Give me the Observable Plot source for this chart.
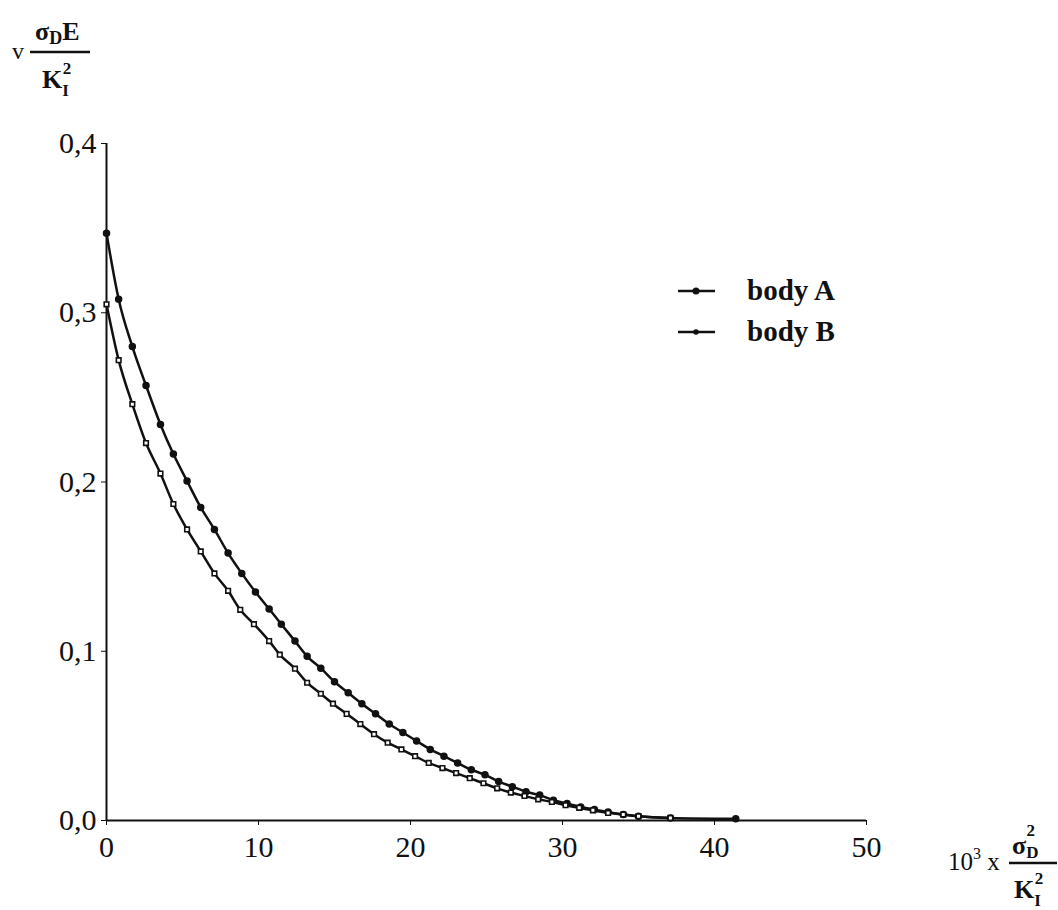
<!DOCTYPE html>
<html>
<head>
<meta charset="utf-8">
<script src="https://cdn.jsdelivr.net/npm/d3@7"></script>
<script src="https://cdn.jsdelivr.net/npm/@observablehq/plot@0.6"></script>
<style>
  html, body { margin: 0; padding: 0; background: #fff; }
  #chart { position: relative; width: 1058px; height: 910px; }
</style>
</head>
<body>
<div id="chart"></div>
<script>
// ---- data ----
const seriesNames = ["body A", "body B"];
const xA = [0, 0.8, 1.7, 2.6, 3.55, 4.4, 5.3, 6.2, 7.1, 8.0, 8.9, 9.8, 10.7, 11.5, 12.4, 13.2, 14.1, 15.0, 15.9, 16.8, 17.7, 18.6, 19.5, 20.4, 21.3, 22.2, 23.1, 24.0, 24.9, 25.8, 26.7, 27.6, 28.5, 29.4, 30.3, 31.2, 32.1, 33.0, 34.0, 35.0, 37.1, 41.4];
const yA = [0.347, 0.308, 0.280, 0.257, 0.234, 0.2165, 0.2006, 0.185, 0.172, 0.158, 0.146, 0.135, 0.125, 0.116, 0.106, 0.097, 0.090, 0.082, 0.0755, 0.069, 0.063, 0.057, 0.052, 0.047, 0.042, 0.038, 0.034, 0.030, 0.027, 0.023, 0.020, 0.017, 0.015, 0.012, 0.010, 0.008, 0.0065, 0.005, 0.0035, 0.0025, 0.0015, 0.001];
const xB = [0, 0.8, 1.7, 2.6, 3.55, 4.4, 5.3, 6.2, 7.1, 8.0, 8.8, 9.7, 10.7, 11.4, 12.4, 13.2, 14.1, 14.9, 15.8, 16.7, 17.6, 18.5, 19.4, 20.3, 21.2, 22.1, 23.0, 23.9, 24.8, 25.7, 26.6, 27.5, 28.4, 29.3, 30.2, 31.1, 32.0, 33.0, 34.0, 35.0, 37.1];
const yB = [0.305, 0.272, 0.246, 0.223, 0.205, 0.187, 0.172, 0.159, 0.146, 0.1357, 0.1245, 0.116, 0.106, 0.098, 0.0897, 0.0814, 0.0749, 0.069, 0.063, 0.057, 0.051, 0.046, 0.042, 0.038, 0.034, 0.031, 0.028, 0.025, 0.022, 0.019, 0.0165, 0.0145, 0.0125, 0.011, 0.009, 0.0075, 0.006, 0.0045, 0.0035, 0.0025, 0.0015];
const xTicks = [0, 10, 20, 30, 40, 50];
const yTicks = [0, 0.1, 0.2, 0.3, 0.4];

const dataA = xA.map((x, i) => ({x, y: yA[i], s: seriesNames[0]}));
const dataB = xB.map((x, i) => ({x, y: yB[i], s: seriesNames[1]}));

const FONT = "Liberation Serif";
const fmt = d => d.toFixed(1).replace(".", ",");

const plot = Plot.plot({
  width: 1058,
  height: 910,
  marginLeft: 106,
  marginRight: 192,
  marginTop: 143,
  marginBottom: 90,
  style: {fontFamily: FONT, fontSize: "30px", color: "#111", background: "#fff"},
  x: {domain: [0, 50], ticks: xTicks, tickSize: 5, tickPadding: 10, label: null, tickFormat: d => String(d)},
  y: {domain: [0, 0.4], ticks: yTicks, tickSize: 5, tickPadding: 5, label: null, tickFormat: fmt},
  marks: [
    Plot.ruleY([0], {stroke: "#111", strokeWidth: 2}),
    Plot.ruleX([0], {stroke: "#111", strokeWidth: 2}),
    Plot.line(dataA, {x: "x", y: "y", stroke: "#111", strokeWidth: 2.5, curve: "monotone-x"}),
    Plot.line(dataB, {x: "x", y: "y", stroke: "#111", strokeWidth: 2.5, curve: "monotone-x"}),
    Plot.dot(dataA, {x: "x", y: "y", r: 3, fill: "#111", stroke: "#111"}),
    Plot.dot(dataB, {x: "x", y: "y", r: 2.6, symbol: "square", fill: "#fff", stroke: "#111", strokeWidth: 1.6})
  ]
});
document.getElementById("chart").appendChild(plot);

// ---- axis titles and legend (text overlay) ----
const svg = d3.select(plot);
const g = svg.append("g").attr("font-family", FONT).attr("fill", "#111").attr("text-anchor", "start");

// y-axis title: v · σ_D E / K_I^2
const yt = g.append("g");
yt.append("text").attr("x", 12).attr("y", 59).attr("font-size", 24).text("v");
yt.append("line").attr("x1", 30).attr("x2", 90).attr("y1", 52).attr("y2", 52).attr("stroke", "#111").attr("stroke-width", 2.5);
const t1 = yt.append("text").attr("x", 35).attr("y", 40).attr("font-size", 26).attr("font-weight", "bold");
t1.append("tspan").text("σ");
t1.append("tspan").attr("font-size", 18).attr("dy", 4).text("D");
t1.append("tspan").attr("dy", -4).text("E");
const t2 = yt.append("text").attr("x", 42).attr("y", 88).attr("font-size", 26).attr("font-weight", "bold");
t2.append("tspan").text("K");
t2.append("tspan").attr("font-size", 17).attr("dy", 8).text("I");
t2.append("tspan").attr("font-size", 17).attr("dx", -6).attr("dy", -22).text("2");

// x-axis title: 10^3 x σ_D^2 / K_I^2
const xt = g.append("g");
const t3 = xt.append("text").attr("x", 948).attr("y", 870).attr("font-size", 25);
t3.append("tspan").text("10");
t3.append("tspan").attr("font-size", 16).attr("dy", -11).text("3");
t3.append("tspan").attr("dy", 11).text(" x");
xt.append("line").attr("x1", 1009).attr("x2", 1057).attr("y1", 863).attr("y2", 863).attr("stroke", "#111").attr("stroke-width", 2.5);
const t4 = xt.append("text").attr("x", 1012).attr("y", 854).attr("font-size", 26).attr("font-weight", "bold");
t4.append("tspan").text("σ");
t4.append("tspan").attr("font-size", 17).attr("dy", 4).text("D");
t4.append("tspan").attr("font-size", 17).attr("dx", -12).attr("dy", -22).text("2");
const t5 = xt.append("text").attr("x", 1014).attr("y", 898).attr("font-size", 26).attr("font-weight", "bold");
t5.append("tspan").text("K");
t5.append("tspan").attr("font-size", 17).attr("dy", 8).text("I");
t5.append("tspan").attr("font-size", 17).attr("dx", -6).attr("dy", -22).text("2");

// legend
const leg = g.append("g");
seriesNames.forEach((name, i) => {
  const y = 291 + i * 41;
  leg.append("line").attr("x1", 678).attr("x2", 715).attr("y1", y).attr("y2", y).attr("stroke", "#111").attr("stroke-width", 2.5);
  leg.append("circle").attr("cx", 696).attr("cy", y).attr("r", i === 0 ? 3.5 : 2.8).attr("fill", "#111");
  leg.append("text").attr("x", 747).attr("y", y + 9).attr("font-size", 29).attr("font-weight", "bold").text(name);
});
</script>
</body>
</html>
